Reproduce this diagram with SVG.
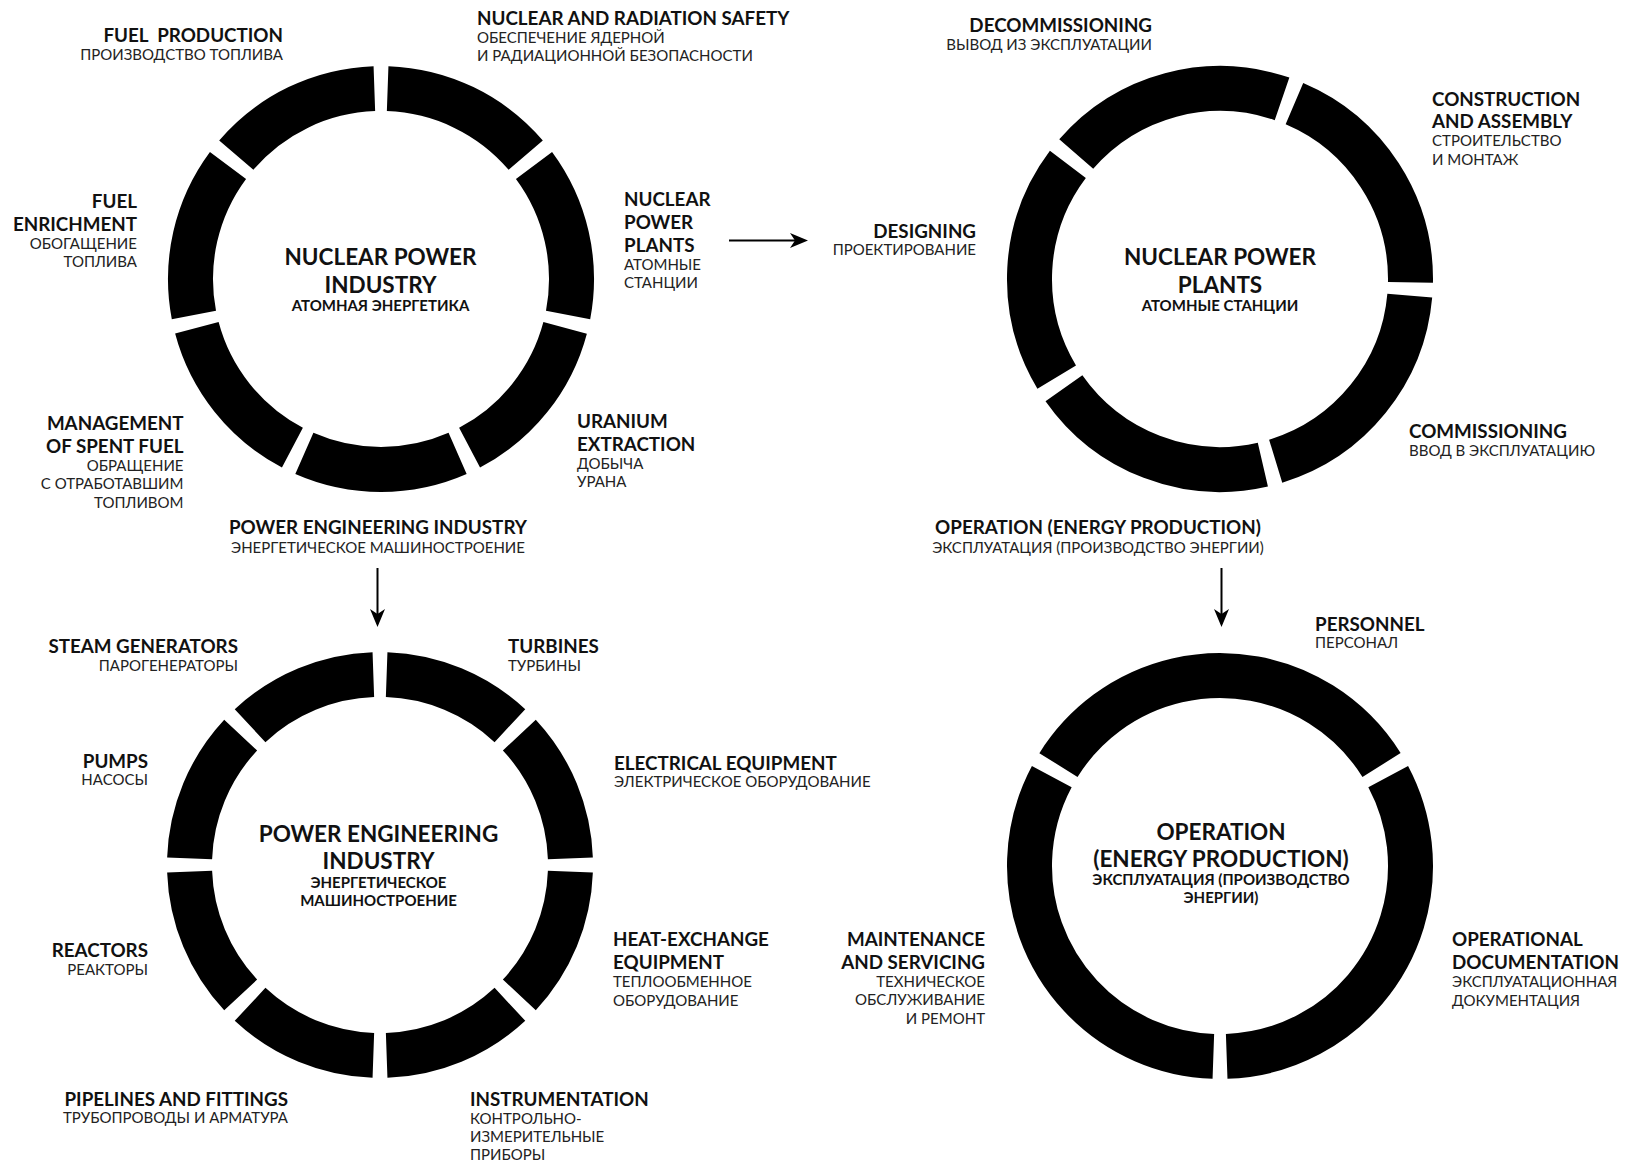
<svg xmlns="http://www.w3.org/2000/svg" width="1626" height="1165" viewBox="0 0 1626 1165">
<style>
.seg{fill:none;stroke:#000;stroke-width:45}
.b{font-family:Lato,"Noto Sans",sans-serif;font-weight:700;font-size:18.8px;fill:#111}
.r{font-family:Lato,"Noto Sans",sans-serif;font-weight:400;font-size:15px;fill:#222}
.t{font-family:Lato,"Noto Sans",sans-serif;font-weight:700;font-size:22.5px;fill:#111;text-anchor:middle}
.s{font-family:Lato,"Noto Sans",sans-serif;font-weight:700;font-size:15px;fill:#111;text-anchor:middle}
.e{text-anchor:end}
.m{text-anchor:middle}
.arr{stroke:#000;stroke-width:2;fill:none}
</style>
<defs>
<marker id="ah" viewBox="0 0 18 16" refX="12" refY="8" markerWidth="18" markerHeight="16" markerUnits="userSpaceOnUse" orient="auto">
<path d="M0,0.5 L18,8 L0,15.5 L5,8 Z" fill="#000"/>
</marker>
</defs>
<rect width="1626" height="1165" fill="#fff"/>

<g id="ring-nuclear-power-industry">
<g fill="none">
<circle class="seg" cx="381" cy="279" r="190.5" pathLength="360" stroke-dasharray="47.43 400" transform="rotate(272 381 279)"/>
<circle class="seg" cx="381" cy="279" r="190.5" pathLength="360" stroke-dasharray="47.43 400" transform="rotate(323.43 381 279)"/>
<circle class="seg" cx="381" cy="279" r="190.5" pathLength="360" stroke-dasharray="47.43 400" transform="rotate(14.86 381 279)"/>
<circle class="seg" cx="381" cy="279" r="190.5" pathLength="360" stroke-dasharray="47.43 400" transform="rotate(66.29 381 279)"/>
<circle class="seg" cx="381" cy="279" r="190.5" pathLength="360" stroke-dasharray="47.43 400" transform="rotate(117.71 381 279)"/>
<circle class="seg" cx="381" cy="279" r="190.5" pathLength="360" stroke-dasharray="47.43 400" transform="rotate(169.14 381 279)"/>
<circle class="seg" cx="381" cy="279" r="190.5" pathLength="360" stroke-dasharray="47.43 400" transform="rotate(220.57 381 279)"/>
</g>
<text class="t" x="380.5" y="265">NUCLEAR POWER</text>
<text class="t" x="380.5" y="292.5">INDUSTRY</text>
<text class="s" x="380.5" y="311">АТОМНАЯ ЭНЕРГЕТИКА</text>
</g>

<g id="label-fuel-production">
<text class="b e" x="283" y="42" xml:space="preserve">FUEL  PRODUCTION</text>
<text class="r e" x="283" y="59.5">ПРОИЗВОДСТВО ТОПЛИВА</text>
</g>
<g id="label-nuclear-radiation-safety">
<text class="b" x="477" y="25">NUCLEAR AND RADIATION SAFETY</text>
<text class="r" x="477" y="43">ОБЕСПЕЧЕНИЕ ЯДЕРНОЙ</text>
<text class="r" x="477" y="61">И РАДИАЦИОННОЙ БЕЗОПАСНОСТИ</text>
</g>
<g id="label-fuel-enrichment">
<text class="b e" x="137" y="207.5">FUEL</text>
<text class="b e" x="137" y="230.5">ENRICHMENT</text>
<text class="r e" x="137" y="248.5">ОБОГАЩЕНИЕ</text>
<text class="r e" x="137" y="266.5">ТОПЛИВА</text>
</g>
<g id="label-nuclear-power-plants">
<text class="b" x="624" y="206">NUCLEAR</text>
<text class="b" x="624" y="229">POWER</text>
<text class="b" x="624" y="252">PLANTS</text>
<text class="r" x="624" y="270">АТОМНЫЕ</text>
<text class="r" x="624" y="288">СТАНЦИИ</text>
</g>
<g id="label-management-spent-fuel">
<text class="b e" x="183.5" y="430">MANAGEMENT</text>
<text class="b e" x="183.5" y="452.7">OF SPENT FUEL</text>
<text class="r e" x="183.5" y="471">ОБРАЩЕНИЕ</text>
<text class="r e" x="183.5" y="489.3">С ОТРАБОТАВШИМ</text>
<text class="r e" x="183.5" y="507.5">ТОПЛИВОМ</text>
</g>
<g id="label-uranium-extraction">
<text class="b" x="577" y="428">URANIUM</text>
<text class="b" x="577" y="450.7">EXTRACTION</text>
<text class="r" x="577" y="468.5">ДОБЫЧА</text>
<text class="r" x="577" y="486.7">УРАНА</text>
</g>
<g id="label-power-engineering-industry">
<text class="b m" x="378" y="534.3">POWER ENGINEERING INDUSTRY</text>
<text class="r m" x="378" y="552.7">ЭНЕРГЕТИЧЕСКОЕ МАШИНОСТРОЕНИЕ</text>
</g>

<g id="ring-nuclear-power-plants">
<g fill="none">
<circle class="seg" cx="1220" cy="279" r="190.5" pathLength="360" stroke-dasharray="68 400" transform="rotate(221 1220 279)"/>
<circle class="seg" cx="1220" cy="279" r="190.5" pathLength="360" stroke-dasharray="68 400" transform="rotate(293 1220 279)"/>
<circle class="seg" cx="1220" cy="279" r="190.5" pathLength="360" stroke-dasharray="68 400" transform="rotate(5 1220 279)"/>
<circle class="seg" cx="1220" cy="279" r="190.5" pathLength="360" stroke-dasharray="68 400" transform="rotate(77 1220 279)"/>
<circle class="seg" cx="1220" cy="279" r="190.5" pathLength="360" stroke-dasharray="68 400" transform="rotate(149 1220 279)"/>
</g>
<text class="t" x="1220" y="265">NUCLEAR POWER</text>
<text class="t" x="1220" y="292.5">PLANTS</text>
<text class="s" x="1220" y="311">АТОМНЫЕ СТАНЦИИ</text>
</g>

<g id="label-decommissioning">
<text class="b e" x="1152" y="32">DECOMMISSIONING</text>
<text class="r e" x="1152" y="50">ВЫВОД ИЗ ЭКСПЛУАТАЦИИ</text>
</g>
<g id="label-construction-assembly">
<text class="b" x="1432" y="106">CONSTRUCTION</text>
<text class="b" x="1432" y="128">AND ASSEMBLY</text>
<text class="r" x="1432" y="146">СТРОИТЕЛЬСТВО</text>
<text class="r" x="1432" y="164.5">И МОНТАЖ</text>
</g>
<g id="label-designing">
<text class="b e" x="976" y="237.5">DESIGNING</text>
<text class="r e" x="976" y="255">ПРОЕКТИРОВАНИЕ</text>
</g>
<g id="label-commissioning">
<text class="b" x="1409" y="437.5">COMMISSIONING</text>
<text class="r" x="1409" y="456">ВВОД В ЭКСПЛУАТАЦИЮ</text>
</g>
<g id="label-operation">
<text class="b m" x="1098" y="534.3">OPERATION (ENERGY PRODUCTION)</text>
<text class="r m" x="1098" y="552.7">ЭКСПЛУАТАЦИЯ (ПРОИЗВОДСТВО ЭНЕРГИИ)</text>
</g>

<g id="ring-power-engineering-industry">
<g fill="none">
<circle class="seg" cx="380" cy="865" r="190.5" pathLength="360" stroke-dasharray="41 400" transform="rotate(2 380 865)"/>
<circle class="seg" cx="380" cy="865" r="190.5" pathLength="360" stroke-dasharray="41 400" transform="rotate(47 380 865)"/>
<circle class="seg" cx="380" cy="865" r="190.5" pathLength="360" stroke-dasharray="41 400" transform="rotate(92 380 865)"/>
<circle class="seg" cx="380" cy="865" r="190.5" pathLength="360" stroke-dasharray="41 400" transform="rotate(137 380 865)"/>
<circle class="seg" cx="380" cy="865" r="190.5" pathLength="360" stroke-dasharray="41 400" transform="rotate(182 380 865)"/>
<circle class="seg" cx="380" cy="865" r="190.5" pathLength="360" stroke-dasharray="41 400" transform="rotate(227 380 865)"/>
<circle class="seg" cx="380" cy="865" r="190.5" pathLength="360" stroke-dasharray="41 400" transform="rotate(272 380 865)"/>
<circle class="seg" cx="380" cy="865" r="190.5" pathLength="360" stroke-dasharray="41 400" transform="rotate(317 380 865)"/>
</g>
<text class="t" x="378.5" y="842.3">POWER ENGINEERING</text>
<text class="t" x="378.5" y="869.3">INDUSTRY</text>
<text class="s" x="378.5" y="887.7">ЭНЕРГЕТИЧЕСКОЕ</text>
<text class="s" x="378.5" y="906">МАШИНОСТРОЕНИЕ</text>
</g>

<g id="label-steam-generators">
<text class="b e" x="238" y="652.7">STEAM GENERATORS</text>
<text class="r e" x="238" y="671">ПАРОГЕНЕРАТОРЫ</text>
</g>
<g id="label-turbines">
<text class="b" x="508" y="653">TURBINES</text>
<text class="r" x="508" y="671.3">ТУРБИНЫ</text>
</g>
<g id="label-pumps">
<text class="b e" x="148" y="767.5">PUMPS</text>
<text class="r e" x="148" y="785">НАСОСЫ</text>
</g>
<g id="label-electrical-equipment">
<text class="b" x="614" y="769.5">ELECTRICAL EQUIPMENT</text>
<text class="r" x="614" y="787">ЭЛЕКТРИЧЕСКОЕ ОБОРУДОВАНИЕ</text>
</g>
<g id="label-reactors">
<text class="b e" x="148" y="957">REACTORS</text>
<text class="r e" x="148" y="975">РЕАКТОРЫ</text>
</g>
<g id="label-heat-exchange">
<text class="b" x="613" y="946">HEAT-EXCHANGE</text>
<text class="b" x="613" y="968.5">EQUIPMENT</text>
<text class="r" x="613" y="987">ТЕПЛООБМЕННОЕ</text>
<text class="r" x="613" y="1005.5">ОБОРУДОВАНИЕ</text>
</g>
<g id="label-pipelines">
<text class="b e" x="288" y="1105.5">PIPELINES AND FITTINGS</text>
<text class="r e" x="288" y="1123">ТРУБОПРОВОДЫ И АРМАТУРА</text>
</g>
<g id="label-instrumentation">
<text class="b" x="470" y="1105.5">INSTRUMENTATION</text>
<text class="r" x="470" y="1124">КОНТРОЛЬНО-</text>
<text class="r" x="470" y="1142">ИЗМЕРИТЕЛЬНЫЕ</text>
<text class="r" x="470" y="1160">ПРИБОРЫ</text>
</g>

<g id="ring-operation">
<g fill="none">
<circle class="seg" cx="1220" cy="866" r="190.5" pathLength="360" stroke-dasharray="116 400" transform="rotate(92 1220 866)"/>
<circle class="seg" cx="1220" cy="866" r="190.5" pathLength="360" stroke-dasharray="116 400" transform="rotate(212 1220 866)"/>
<circle class="seg" cx="1220" cy="866" r="190.5" pathLength="360" stroke-dasharray="116 400" transform="rotate(332 1220 866)"/>
</g>
<text class="t" x="1221" y="840">OPERATION</text>
<text class="t" x="1221" y="867.3">(ENERGY PRODUCTION)</text>
<text class="s" x="1221" y="885">ЭКСПЛУАТАЦИЯ (ПРОИЗВОДСТВО</text>
<text class="s" x="1221" y="902.7">ЭНЕРГИИ)</text>
</g>

<g id="label-personnel">
<text class="b" x="1315" y="630.5">PERSONNEL</text>
<text class="r" x="1315" y="648">ПЕРСОНАЛ</text>
</g>
<g id="label-maintenance">
<text class="b e" x="985" y="946">MAINTENANCE</text>
<text class="b e" x="985" y="968.5">AND SERVICING</text>
<text class="r e" x="985" y="987">ТЕХНИЧЕСКОЕ</text>
<text class="r e" x="985" y="1005">ОБСЛУЖИВАНИЕ</text>
<text class="r e" x="985" y="1023.5">И РЕМОНТ</text>
</g>
<g id="label-operational-documentation">
<text class="b" x="1452" y="946">OPERATIONAL</text>
<text class="b" x="1452" y="968.5">DOCUMENTATION</text>
<text class="r" x="1452" y="987">ЭКСПЛУАТАЦИОННАЯ</text>
<text class="r" x="1452" y="1005.5">ДОКУМЕНТАЦИЯ</text>
</g>

<g id="connectors">
<line class="arr" x1="729" y1="240.5" x2="802" y2="240.5" marker-end="url(#ah)"/>
<line class="arr" x1="377.5" y1="568" x2="377.5" y2="621" marker-end="url(#ah)"/>
<line class="arr" x1="1221.5" y1="568" x2="1221.5" y2="621" marker-end="url(#ah)"/>
</g>
</svg>
